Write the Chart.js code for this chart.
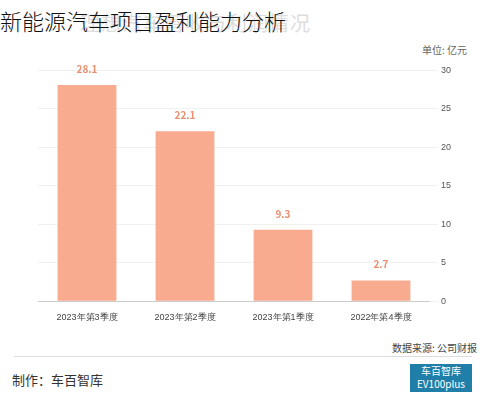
<!DOCTYPE html>
<html>
<head>
<meta charset="utf-8">
<script src="https://cdn.jsdelivr.net/npm/chart.js@4"></script>
<style>
body { margin: 0; width: 486px; height: 400px; background: #fff; font-family: "Noto Sans CJK SC", sans-serif; position: relative; overflow: hidden; }
#ghost { position: absolute; left: 80px; top: 8px; font-size: 20px; color: #ddd; letter-spacing: 1px; }
#title { position: absolute; left: 0; top: 4px; font-size: 22px; color: #111; font-weight: 300; }
#unit { position: absolute; left: 422px; top: 42px; font-size: 10px; color: #666; }
#wrap { position: absolute; left: 38px; top: 62px; width: 416px; height: 264px; }
#src { position: absolute; left: 392px; top: 340px; font-size: 10px; color: #444; }
#line { position: absolute; left: 14px; top: 356px; width: 458px; border-top: 1px solid #ddd; }
#maker { position: absolute; left: 12px; top: 370px; font-size: 13px; color: #333; }
#logo { position: absolute; left: 410px; top: 364px; width: 62px; height: 28px; background: #1f7fa8; color: #fff; font-size: 10px; text-align: center; line-height: 13px; }
</style>
</head>
<body>
<div id="ghost">理想汽车营收与利润情况</div>
<div id="title">新能源汽车项目盈利能力分析</div>
<div id="unit">单位: 亿元</div>
<div id="wrap"><canvas id="chart"></canvas></div>
<div id="src">数据来源: 公司财报</div>
<div id="line"></div>
<div id="maker">制作：车百智库</div>
<div id="logo">车百智库<br>EV100plus</div>
<script>
const categories = ["2023年第3季度", "2023年第2季度", "2023年第1季度", "2022年第4季度"];
const profits = [28.1, 22.1, 9.3, 2.7];

const valueLabels = {
    id: "valueLabels",
    afterDatasetsDraw(chart) {
        const ctx = chart.ctx;
        ctx.save();
        ctx.fillStyle = "#e8906f";
        ctx.font = "bold 10px 'Noto Sans CJK SC'";
        ctx.textAlign = "center";
        chart.getDatasetMeta(0).data.forEach((bar, i) => {
            ctx.fillText(profits[i], bar.x, bar.y - 12);
        });
        ctx.restore();
    }
};

new Chart(document.getElementById("chart"), {
    type: "bar",
    data: {
        labels: categories,
        datasets: [{
            data: profits,
            backgroundColor: "#f9ab90",
            categoryPercentage: 0.6,
            barPercentage: 1
        }]
    },
    options: {
        responsive: true,
        maintainAspectRatio: false,
        animation: false,
        layout: { padding: { top: 8 } },
        scales: {
            x: {
                grid: { display: false },
                border: { color: "#ccc" },
                ticks: { color: "#444", font: { size: 9 } }
            },
            y: {
                position: "right",
                min: 0,
                max: 30,
                ticks: { stepSize: 5, color: "#555", font: { size: 9 } },
                grid: { color: "#f0f0f0", tickLength: 8 },
                border: { display: false }
            }
        },
        plugins: {
            legend: { display: false },
            tooltip: { enabled: false }
        }
    },
    plugins: [valueLabels]
});
</script>
</body>
</html>
